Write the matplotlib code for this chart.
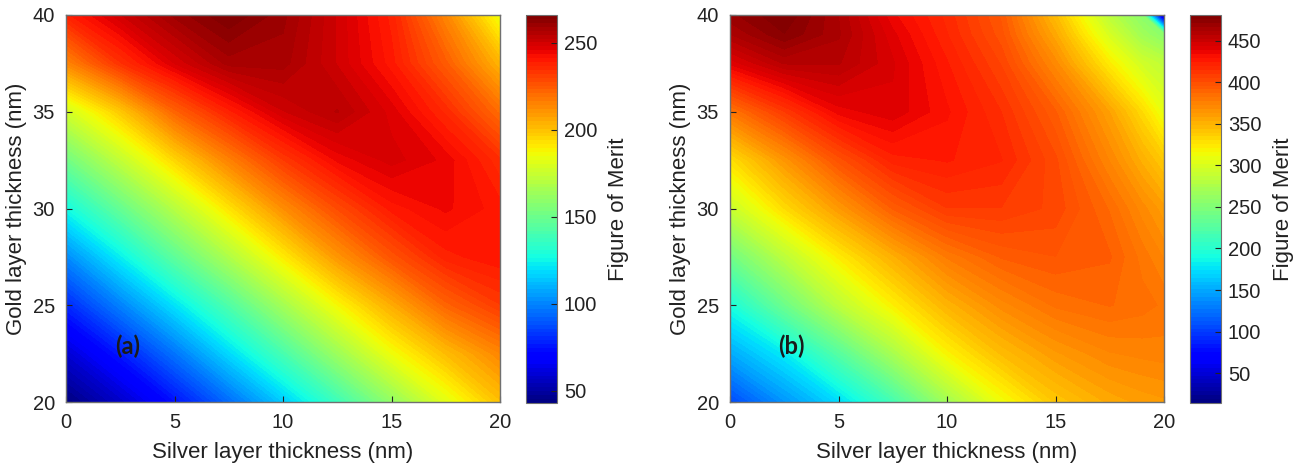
import numpy as np
import matplotlib.pyplot as plt

# Grid axes (nm)
silver_a = [0, 2.5, 5, 7.5, 10, 12.5, 15, 17.5, 20]
gold_a = [20, 22.5, 25, 27.5, 30, 32.5, 35, 37.5, 40]

# Figure of merit, panel (a): rows = gold thickness, cols = silver thickness
fom_a = [
    [43, 57, 74, 94, 115, 137, 160, 182, 200],
    [59, 76, 96, 118, 140, 163, 185, 201, 214],
    [79, 99, 120, 142, 165, 187, 205, 222, 232],
    [101, 123, 146, 168, 190, 210, 226, 238, 241],
    [126, 148, 170, 192, 212, 228, 240, 244, 240],
    [151, 173, 195, 215, 232, 244, 249, 245, 235],
    [177, 198, 222, 238, 250, 255, 247, 236, 220],
    [214, 234, 248, 258, 258, 250, 240, 224, 203],
    [238, 250, 260, 266, 260, 250, 238, 214, 184],
]

silver_b = [0, 2.5, 5, 7.5, 10, 12.5, 15, 17.5, 19, 20]
gold_b = [20, 22.5, 25, 27.5, 30, 32.5, 35, 37.5, 39, 40]

# Figure of merit, panel (b)
fom_b = [
    [105, 140, 172, 215, 268, 312, 340, 355, 360, 362],
    [150, 180, 225, 272, 318, 345, 362, 372, 374, 375],
    [192, 238, 283, 320, 350, 370, 383, 387, 384, 381],
    [240, 283, 322, 352, 378, 392, 396, 392, 380, 372],
    [290, 330, 362, 392, 410, 410, 404, 386, 370, 360],
    [328, 364, 398, 422, 425, 420, 402, 372, 352, 338],
    [380, 410, 436, 442, 430, 415, 392, 358, 330, 308],
    [440, 458, 458, 444, 425, 405, 370, 322, 295, 285],
    [462, 476, 463, 440, 420, 398, 355, 298, 268, 255],
    [470, 481, 462, 435, 418, 395, 345, 282, 255, 14],
]

cbar_ticks_a = [50, 100, 150, 200, 250]
cbar_ticks_b = [50, 100, 150, 200, 250, 300, 350, 400, 450]

plt.rcParams['font.family'] = ['Liberation Sans', 'DejaVu Sans']

W, H = 1301, 467
fig = plt.figure(figsize=(W / 100, H / 100), dpi=100)


def px(x0, y0, x1, y1):
    return [x0 / W, 1 - y1 / H, (x1 - x0) / W, (y1 - y0) / H]


panels = [
    (silver_a, gold_a, fom_a, cbar_ticks_a, '(a)', 66, 526),
    (silver_b, gold_b, fom_b, cbar_ticks_b, '(b)', 730, 1190),
]

for xs, ys, z, cticks, tag, ax_left, cb_left in panels:
    z = np.array(z, dtype=float)
    ax = fig.add_axes(px(ax_left, 15, ax_left + 434, 402))
    cax = fig.add_axes(px(cb_left, 15, cb_left + 31, 403))

    levels = np.linspace(z.min(), z.max(), 100)
    cf = ax.contourf(xs, ys, z, levels=levels, cmap='jet')

    ax.set_xlim(0, 20)
    ax.set_ylim(20, 40)
    ax.set_xticks([0, 5, 10, 15, 20])
    ax.set_yticks([20, 25, 30, 35, 40])
    ax.tick_params(direction='in', length=4, labelsize=14.5, pad=8,
                   colors='#222222')
    for sp in ax.spines.values():
        sp.set_color('#707070')
        sp.set_linewidth(1.0)
    ax.set_xlabel('Silver layer thickness (nm)', fontsize=16, labelpad=7,
                  color='#222222')
    ax.set_ylabel('Gold layer thickness (nm)', fontsize=16, labelpad=4,
                  color='#222222')

    ax.text(2.85, 22.9, tag, fontsize=17, fontweight='bold',
            family=['Lato', 'DejaVu Sans'], color='#1a1a1a',
            ha='center', va='center')

    cb = fig.colorbar(cf, cax=cax, ticks=cticks)
    cb.outline.set_edgecolor('#707070')
    cb.ax.tick_params(direction='in', length=4, labelsize=14.5, pad=5,
                      colors='#222222')
    cb.set_label('Figure of Merit', fontsize=16, labelpad=8,
                 color='#222222')

fig.savefig('out.png', dpi=100)
